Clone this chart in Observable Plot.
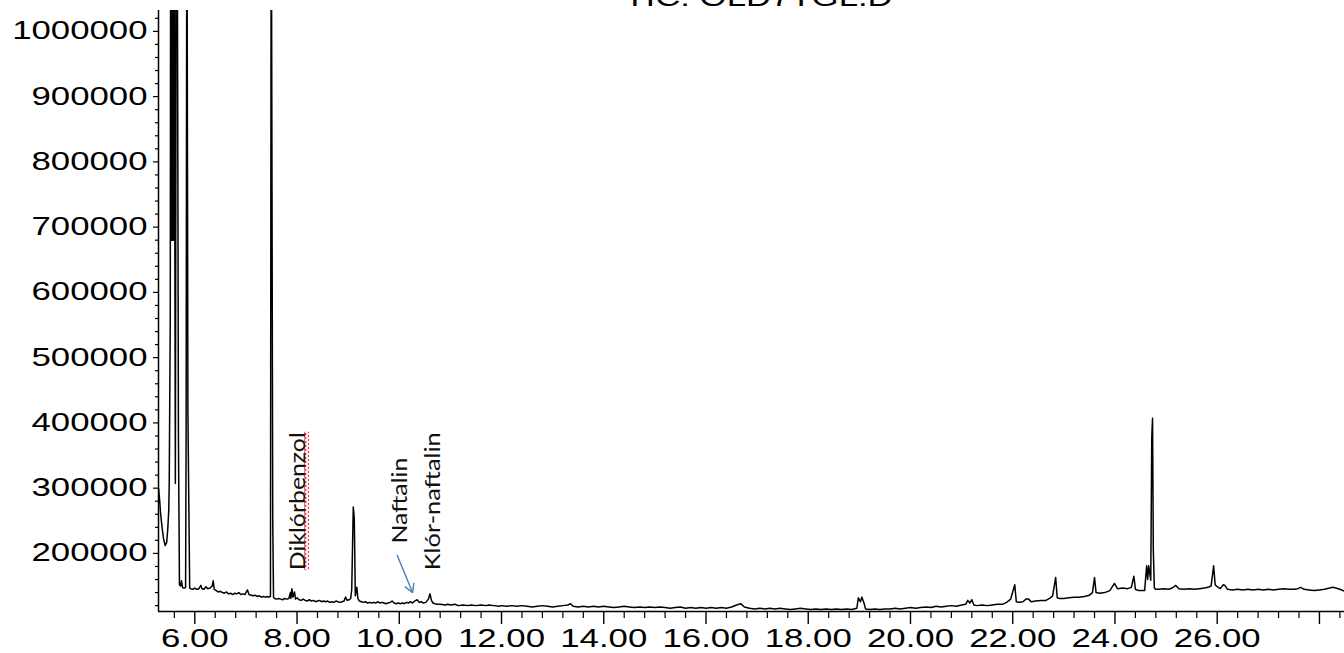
<!DOCTYPE html>
<html><head><meta charset="utf-8">
<script src="https://cdn.jsdelivr.net/npm/d3@7"></script>
<script src="https://cdn.jsdelivr.net/npm/@observablehq/plot@0.6"></script>
<style>
html,body{margin:0;padding:0;background:#fff;}
#chart{width:1344px;height:653px;overflow:hidden;}
</style></head><body><div id="chart"></div>
<script>
const title = "TIC: OLD7TGL.D";

// retention time (min)
const retentionTime = [
5.29,5.31,5.33,5.36,5.39,5.42,5.45,5.47,5.49,5.50,5.52,5.53,5.545,5.555,5.565,5.575,5.59,5.60,5.61,5.62,5.64,5.66,5.68,5.70,5.72,5.74,5.76,5.78,5.80,5.82,5.83,5.845,5.86,5.865,5.88,5.90,
5.92,5.96,6.00,6.04,6.08,6.12,6.14,6.18,6.22,6.25,6.30,6.34,6.36,6.38,6.42,6.46,6.50,6.54,6.58,6.62,6.66,6.70,6.74,6.78,6.82,6.86,6.90,6.94,6.98,7.03,7.06,7.10,7.14,7.18,7.22,7.26,7.30,7.34,7.38,7.42,7.45,
7.48,7.495,7.505,7.525,7.54,7.56,7.60,7.64,7.68,7.72,7.76,7.80,7.84,7.87,7.88,7.90,7.92,7.95,7.97,8.00,8.04,8.08,8.12,8.16,8.20,8.24,8.28,8.32,8.36,8.40,8.44,8.48,8.52,8.56,8.60,8.64,8.68,8.72,8.76,8.80,8.84,8.88,8.92,8.95,8.98,9.02,9.05,
9.07,9.10,9.12,9.14,9.17,9.19,9.22,9.26,9.30,9.34,9.38,9.42,9.46,9.50,9.54,9.58,9.62,9.66,9.70,9.74,9.78,9.82,9.86,9.90,9.94,9.98,10.02,10.06,10.10,10.14,10.18,10.22,10.26,10.30,10.35,10.39,10.43,10.47,10.52,10.57,10.60,10.63,10.66,10.70,10.75,
10.80,10.90,10.95,11.00,11.10,11.15,11.25,11.35,11.40,11.50,11.60,11.70,11.75,11.85,11.95,12.00,12.10,12.20,12.30,12.40,12.50,12.60,12.70,12.80,12.90,13.00,13.10,13.20,13.30,13.35,13.40,13.50,13.60,13.70,13.80,13.90,14.00,14.10,14.20,14.30,14.40,14.50,14.60,14.70,14.80,14.90,
15.00,15.10,15.20,15.30,15.40,15.50,15.60,15.70,15.80,15.90,16.00,16.10,16.20,16.30,16.40,16.50,16.60,16.68,16.75,16.85,16.95,17.05,17.15,17.25,17.35,17.45,17.55,17.65,17.75,17.85,17.95,18.05,18.15,18.25,18.35,18.45,18.55,18.65,18.75,18.85,
18.95,18.98,19.02,19.05,19.09,19.12,19.20,19.30,19.40,19.50,19.60,19.70,19.80,19.90,20.00,20.10,20.20,20.30,20.40,20.50,20.60,20.70,20.80,20.90,21.00,21.08,21.12,21.16,21.20,21.24,21.30,21.40,21.50,21.60,21.70,21.80,21.88,21.96,22.04,22.07,22.12,22.20,22.26,22.31,22.36,22.45,22.55,22.65,22.72,22.78,22.84,22.87,22.92,23.00,23.10,23.20,23.30,23.40,23.50,23.56,23.60,23.63,23.70,23.80,23.90,23.99,24.05,24.15,24.25,24.32,24.37,24.40,24.46,24.52,24.58,
24.62,24.64,24.66,24.70,24.72,24.735,24.75,24.77,24.80,24.85,24.95,25.05,25.12,25.19,25.25,25.35,25.45,25.55,25.65,25.75,25.82,25.88,25.93,25.96,26.00,26.06,26.12,26.15,26.20,26.30,26.40,26.50,26.60,26.70,26.80,26.90,27.00,27.10,27.20,27.30,27.40,27.50,27.58,27.63,27.70,27.80,27.90,28.00,28.10,28.20,28.26,28.32,28.40,28.49
];

// abundance (counts)
const abundance = [
300000,284000,262000,240000,222000,212000,217000,236000,265000,307000,560000,1400000,680000,1400000,680000,1400000,680000,1250000,674000,307000,1300000,1100000,380000,152000,150000,158000,148000,147000,147000,148000,377000,1300000,668000,420000,300000,147000,
146000,145000,147000,145000,146000,151000,146000,145000,149000,146000,147000,150000,158000,145000,143000,141000,142000,140000,139000,141000,138000,139000,137000,139000,138000,140000,137000,138000,137000,144000,137000,136000,135000,136000,134000,135000,133000,134000,133000,134000,133000,
134000,1300000,946000,246000,133000,131000,130000,131000,130000,129000,131000,130000,131000,140000,131000,146000,133000,141000,130000,132000,129000,128000,130000,128000,127000,129000,127000,128000,126000,127000,128000,126000,127000,126000,127000,125000,126000,125000,127000,126000,125000,126000,127000,133000,128000,129000,131000,
145000,271000,254000,135000,148000,131000,127000,126000,125000,126000,124000,125000,124000,125000,124000,126000,124000,125000,124000,123000,124000,125000,127000,124000,123000,124000,123000,124000,123000,125000,124000,126000,124000,127000,129000,125000,126000,124000,125000,130000,138000,128000,124000,123000,122000,
122000,121000,122000,121000,122000,120000,121000,120000,121000,120000,121000,120000,121000,120000,119000,120000,119000,120000,119000,120000,119000,118000,119000,120000,119000,118000,119000,120000,121000,123000,119000,118000,119000,118000,119000,118000,119000,118000,117000,118000,119000,118000,117000,118000,117000,118000,
117000,118000,117000,116000,117000,118000,116000,117000,116000,117000,116000,117000,116000,117000,116000,118000,121000,123000,118000,116000,115000,116000,115000,116000,115000,116000,115000,114000,115000,116000,115000,114000,115000,114000,115000,114000,115000,114000,115000,114000,
116000,132000,126000,133000,124000,115000,114000,115000,114000,115000,115000,116000,115000,116000,117000,116000,117000,118000,117000,119000,118000,119000,120000,119000,121000,122000,128000,124000,129000,121000,120000,121000,120000,121000,122000,122000,125000,130000,152000,126000,125000,126000,130000,130000,126000,127000,128000,128000,131000,135000,163000,132000,131000,131000,132000,133000,133000,134000,136000,140000,163000,140000,139000,140000,143000,154000,146000,147000,146000,148000,165000,145000,143000,143000,143000,
181000,160000,181000,159000,379000,407000,206000,147000,145000,145000,146000,145000,147000,151000,146000,145000,146000,145000,146000,147000,148000,150000,181000,152000,149000,146000,152000,151000,145000,144000,145000,144000,145000,144000,145000,144000,145000,144000,145000,146000,145000,145000,146000,148000,145000,144000,143000,144000,145000,147000,148000,147000,145000,142000
];

const yMajorTicks = [200000,300000,400000,500000,600000,700000,800000,900000,1000000];
const xMajorTicks = [6,8,10,12,14,16,18,20,22,24,26,28];
const xTickLabels = ["6.00","8.00","10.00","12.00","14.00","16.00","18.00","20.00","22.00","24.00","26.00",""];

const peakLabels = ["Diklórbenzol","Naftalin","Klór-naftalin"];
const peakLabelTime = [8.03, 10.02, 10.67];
const peakLabelAbundance = [280000, 281000, 280000];

const arrowStartTime = 9.96, arrowStartAbundance = 197000;
const arrowEndTime = 10.26, arrowEndAbundance = 140000;

// ---- presentation ----
const W = 1344, H = 653, mL = 158, mR = 0, mT = 10, mB = 42;
const xDomain = [5.29, 28.49];
const yDomain = [111000, 1032000];
const labelLengths = [138, 86, 138];
const hStretch = 1.39;
const perPx = (yDomain[1] - yDomain[0]) / (H - mT - mB);

const rows = retentionTime.map((t, i) => ({t, v: abundance[i]}));
const yMinor = d3.range(120000, 1032000, 20000).filter(v => v % 100000 !== 0);
const xMinor = d3.range(5.6, 28.5, 0.4).map(v => +v.toFixed(1)).filter(v => Math.abs(v/2 - Math.round(v/2)) > 1e-6);
const labels = peakLabels.map((s, i) => ({s, t: peakLabelTime[i], v: peakLabelAbundance[i]}));
const squiggle = [{t: peakLabelTime[0], v1: peakLabelAbundance[0] - labelLengths[0] / 2 * perPx, v2: peakLabelAbundance[0] + labelLengths[0] / 2 * perPx}];

const plot = Plot.plot({
  width: W, height: H,
  marginLeft: mL, marginRight: mR, marginTop: mT, marginBottom: mB,
  x: {domain: xDomain, label: null},
  y: {domain: yDomain, label: null},
  style: {fontFamily: "'Liberation Sans', Arial, sans-serif", fontSize: "25px", color: "#000", background: "#fff"},
  marks: [
    Plot.axisY(yMinor, {tickSize: 3, tickFormat: () => "", label: null, strokeWidth: 1.2}),
    Plot.axisY(yMajorTicks, {tickSize: 5, tickPadding: 6, tickFormat: d => String(d), label: null, fontSize: 25, strokeWidth: 1.2}),
    Plot.axisX(xMinor, {tickSize: 7, tickFormat: () => "", label: null, strokeWidth: 1.2}),
    Plot.axisX(xMajorTicks, {tickSize: 13, tickPadding: 5, tickFormat: d => xTickLabels[xMajorTicks.indexOf(d)], label: null, fontSize: 25, strokeWidth: 1.4}),
    Plot.ruleX([xDomain[0]], {stroke: "#000", strokeWidth: 1.5}),
    Plot.ruleY([yDomain[0]], {stroke: "#000", strokeWidth: 1.5}),
    Plot.line(rows, {x: "t", y: "v", stroke: "#000", strokeWidth: 1.5, clip: true}),
    Plot.ruleX(squiggle, {x: "t", y1: "v1", y2: "v2", dx: 8, stroke: "url(#wavy)", strokeWidth: 5}),
    Plot.text(labels, {x: "t", y: "v", text: "s", rotate: -90, textAnchor: "middle", lineAnchor: "middle",
      fontFamily: "Lato, 'Open Sans', sans-serif", fontSize: 21, fill: "#111"}),
    Plot.arrow([{}], {x1: () => arrowStartTime, y1: () => arrowStartAbundance, x2: () => arrowEndTime, y2: () => arrowEndAbundance,
      stroke: "#4F81BD", strokeWidth: 1.4, headLength: 10}),
    Plot.text([title], {frameAnchor: "top", dx: 7, dy: -5, lineAnchor: "bottom", fontSize: 25, fill: "#000"})
  ]
});
document.getElementById("chart").append(plot);

// wavy (spell-check style) pattern for the squiggle beside "Diklórbenzol"
const sqX = plot.scale("x").apply(peakLabelTime[0]) + 8;
const defs = d3.select(plot).insert("defs", ":first-child");
const pat = defs.append("pattern").attr("id", "wavy").attr("patternUnits", "userSpaceOnUse")
  .attr("width", 5).attr("height", 4).attr("x", sqX - 2.5).attr("y", 0);
pat.append("path").attr("d", "M1,0 L4,2 L1,4").attr("fill", "none").attr("stroke", "#e8202a").attr("stroke-width", 1.3);

plot.querySelectorAll("text").forEach(el => {
  const s = el.textContent;
  if (!s) return;
  const idx = peakLabels.indexOf(s);
  const len = el.getComputedTextLength();
  const target = idx >= 0 ? labelLengths[idx] : len * hStretch;
  el.setAttribute("textLength", target.toFixed(1));
  el.setAttribute("lengthAdjust", "spacingAndGlyphs");
});
</script></body></html>
